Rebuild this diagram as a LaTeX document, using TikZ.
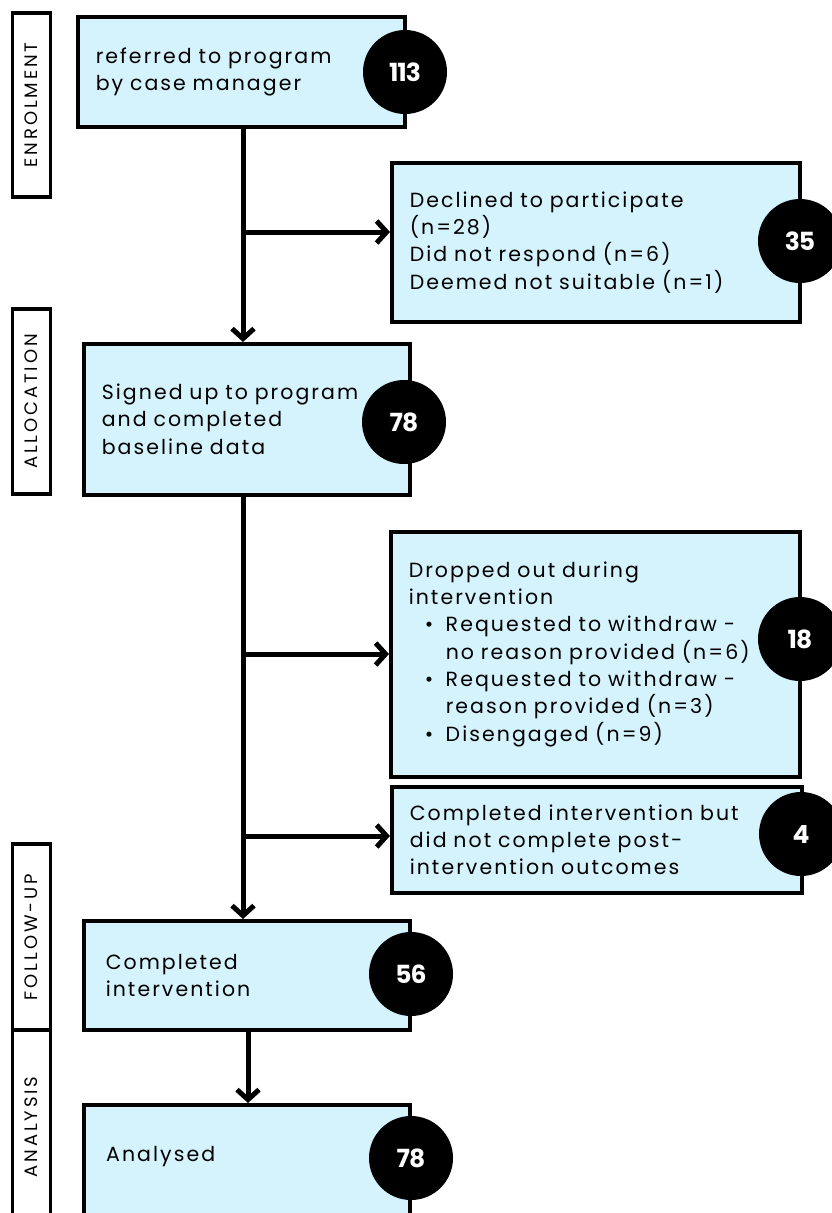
\documentclass[tikz,border=0pt]{standalone}
\usepackage{fontspec}
\setmainfont{Poppins}[LetterSpace=10, WordSpace=1.7]
\newfontfamily\numfont{Poppins}[LetterSpace=-4]
\newfontfamily\phasefont{Poppins}[LetterSpace=16]
\usetikzlibrary{arrows.meta}
\definecolor{boxfill}{RGB}{212,243,253}
\tikzset{
  box/.style={draw=black, line width=3.5pt, fill=boxfill, anchor=north west, inner xsep=18pt, inner ysep=0pt,
    align=left, font=\fontsize{20.5}{27.3}\selectfont},
  count/.style={circle, fill=black, minimum size=84pt, inner sep=0pt, text=white,
    font=\numfont\bfseries\fontsize{25}{28}\selectfont},
  phase/.style={draw=black, line width=3.5pt, fill=white, rotate=90, minimum height=38pt, inner sep=0pt,
    font=\phasefont\fontsize{18}{20}\selectfont},
  flow/.style={line width=5pt, -{Straight Barb[length=10pt,width=22pt]}},
}
\begin{document}
\begin{tikzpicture}[x=1pt,y=-1pt]
\useasboundingbox[fill=white] (0,0) rectangle (832,1213);
% phase labels
\node[phase, minimum width=184pt] (s1) at (31.5,105) {ENROLMENT};
\node[phase, minimum width=185pt] (s2) at (31.5,401.5) {ALLOCATION};
\node[phase, minimum width=186pt] (s3) at (31.5,937) {FOLLOW-UP};
\node[phase, minimum width=194pt] (s4) at (31.5,1127) {ANALYSIS};
% boxes
\node[box, minimum width=327pt, minimum height=110pt, text width=291pt] (b1) at (76,15)
  {referred to program\\by case manager};
\node[box, minimum width=408pt, minimum height=159pt, text width=372pt] (b2) at (390,161)
  {Declined to participate\\(n=28)\\Did not respond (n=6)\\Deemed not suitable (n=1)};
\node[box, minimum width=326pt, minimum height=151pt, text width=290pt] (b3) at (82,342)
  {Signed up to program\\and completed\\baseline data};
\node[box, minimum width=409pt, minimum height=245pt, text width=373pt] (b4) at (389,530)
  {Dropped out during\\intervention\\
   \hspace*{16pt}\makebox[21pt][l]{•}Requested to withdraw -\\
   \hspace*{37pt}no reason provided (n=6)\\
   \hspace*{16pt}\makebox[21pt][l]{•}Requested to withdraw -\\
   \hspace*{37pt}reason provided (n=3)\\
   \hspace*{16pt}\makebox[21pt][l]{•}Disengaged (n=9)\\[24pt]};
\node[box, minimum width=410pt, minimum height=106pt, text width=374pt] (b5) at (390,785)
  {Completed intervention but\\did not complete post-\\intervention outcomes};
\node[box, minimum width=326pt, minimum height=109pt, text width=282pt, inner xsep=22pt] (b6) at (82,919)
  {Completed\\intervention};
\node[box, minimum width=326pt, minimum height=125pt] (b7) at (82,1103) {};
\node[anchor=west, font=\fontsize{20.5}{27.3}\selectfont, inner sep=0pt] (t7) at (106,1157) {Analysed};
% counts
\node[count] (c1) at (405,72) {113};
\node[count] (c2) at (800,241) {35};
\node[count] (c3) at (404,422) {78};
\node[count] (c4) at (800,639) {18};
\node[count] (c5) at (801,834) {4};
\node[count] (c6) at (411,974) {56};
\node[count] (c7) at (411,1158) {78};
% connectors
\coordinate (j1) at (243,232);
\coordinate (j2) at (243,654);
\coordinate (j3) at (243,836);
\coordinate (k) at (248,1060);
\draw[flow] (b1.south -| j1) -- (b3.north -| j1);
\draw[flow] (j1) -- (j1 -| b2.west);
\draw[flow] (b3.south -| j2) -- (b6.north -| j2);
\draw[flow] (j2) -- (j2 -| b4.west);
\draw[flow] (j3) -- (j3 -| b5.west);
\draw[flow] (b6.south -| k) -- (b7.north -| k);
\end{tikzpicture}
\end{document}
